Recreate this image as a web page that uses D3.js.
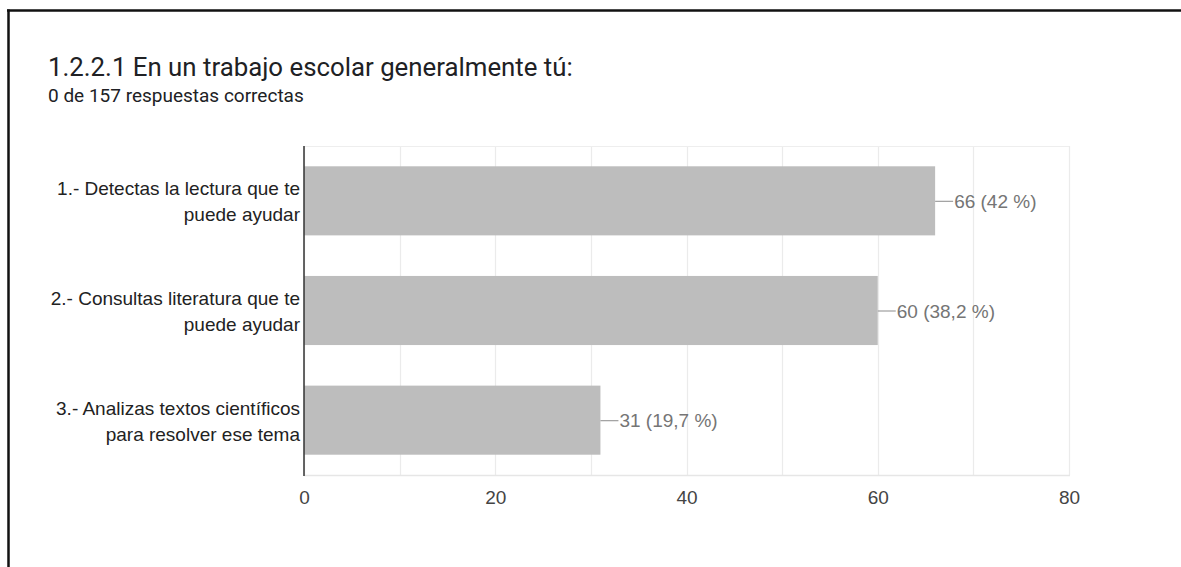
<!DOCTYPE html>
<html>
<head>
<meta charset="utf-8">
<script src="https://cdn.jsdelivr.net/npm/d3@7"></script>
<style>
  html, body { margin: 0; padding: 0; background: #fff; }
  svg { display: block; }
</style>
</head>
<body>
<svg id="chart" width="1181" height="567"></svg>
<script>
// Survey answers
const categories = [
  ["1.- Detectas la lectura que te", "puede ayudar"],
  ["2.- Consultas literatura que te", "puede ayudar"],
  ["3.- Analizas textos científicos", "para resolver ese tema"]
];
const counts = [66, 60, 31];
const valueLabels = ["66 (42 %)", "60 (38,2 %)", "31 (19,7 %)"];
const xTicks = [0, 20, 40, 60, 80];
const gridValues = [0, 10, 20, 30, 40, 50, 60, 70, 80];

const titleText = "1.2.2.1 En un trabajo escolar generalmente tú:";
const subtitleText = "0 de 157 respuestas correctas";

const svg = d3.select("#chart");

// card frame (top and left edges)
svg.append("line").attr("x1", 7).attr("x2", 1181).attr("y1", 10.5).attr("y2", 10.5)
  .attr("stroke", "#111").attr("stroke-width", 2.5);
svg.append("line").attr("x1", 8.5).attr("x2", 8.5).attr("y1", 9.5).attr("y2", 567)
  .attr("stroke", "#111").attr("stroke-width", 2.5);

svg.append("text").attr("x", 48).attr("y", 76)
  .attr("font-family", "Roboto, sans-serif").attr("font-size", 25.8)
  .attr("fill", "#202124").text(titleText);
svg.append("text").attr("x", 48).attr("y", 102)
  .attr("font-family", "Roboto, sans-serif").attr("font-size", 19)
  .attr("fill", "#202124").text(subtitleText);

const plotLeft = 304, plotRight = 1069, plotTop = 146, plotBottom = 475;
const x = d3.scaleLinear().domain([0, 80]).range([plotLeft, plotRight]);
const y = d3.scaleBand().domain(d3.range(counts.length)).range([plotTop, plotBottom])
  .paddingInner(0.37).paddingOuter(0.185);

const font = "'Liberation Sans', Arial, sans-serif";
const fs = 19;

// vertical grid lines
svg.append("g").selectAll("line").data(gridValues).join("line")
  .attr("x1", d => Math.round(x(d)) + 0.5).attr("x2", d => Math.round(x(d)) + 0.5)
  .attr("y1", plotTop).attr("y2", plotBottom)
  .attr("stroke", "#ebebeb").attr("stroke-width", 1.2);
// top and bottom frame of plot area
svg.append("line").attr("x1", plotLeft).attr("x2", plotRight).attr("y1", plotTop + 0.5).attr("y2", plotTop + 0.5)
  .attr("stroke", "#eeeeee").attr("stroke-width", 1.2);
svg.append("line").attr("x1", plotLeft).attr("x2", plotRight + 1).attr("y1", plotBottom + 0.5).attr("y2", plotBottom + 0.5)
  .attr("stroke", "#e6e6e6").attr("stroke-width", 1.5);

// bars
svg.append("g").selectAll("rect").data(counts).join("rect")
  .attr("x", x(0)).attr("y", (d, i) => y(i))
  .attr("width", d => x(d) - x(0)).attr("height", y.bandwidth())
  .attr("fill", "#bdbdbd");

// value connectors and labels
const vl = svg.append("g");
vl.selectAll("line").data(counts).join("line")
  .attr("x1", d => x(d)).attr("x2", d => x(d) + 18)
  .attr("y1", (d, i) => y(i) + y.bandwidth() / 2 + 0.5)
  .attr("y2", (d, i) => y(i) + y.bandwidth() / 2 + 0.5)
  .attr("stroke", "#9e9e9e").attr("stroke-width", 1.2);
vl.selectAll("text").data(counts).join("text")
  .attr("x", d => x(d) + 19)
  .attr("y", (d, i) => y(i) + y.bandwidth() / 2 + 7)
  .attr("font-family", font).attr("font-size", fs)
  .attr("fill", "#757575")
  .text((d, i) => valueLabels[i]);

// category labels
const cl = svg.append("g");
categories.forEach((lines, i) => {
  const cy = y(i) + y.bandwidth() / 2;
  const t = cl.append("text").attr("text-anchor", "end")
    .attr("font-family", font).attr("font-size", fs).attr("fill", "#222");
  lines.forEach((ln, j) => {
    t.append("tspan").attr("x", 300).attr("y", cy - 5.5 + j * 26).text(ln);
  });
});

// x axis tick labels
const xAxis = d3.axisBottom(x).tickValues(xTicks).tickSize(0).tickPadding(0);
const ax = svg.append("g").attr("transform", `translate(0,${plotBottom})`).call(xAxis);
ax.select(".domain").remove();
ax.selectAll("text").attr("dy", null).attr("y", 29)
  .attr("font-family", font).attr("font-size", fs).attr("fill", "#444");

// left axis line
svg.append("line").attr("x1", plotLeft).attr("x2", plotLeft).attr("y1", plotTop).attr("y2", plotBottom + 1)
  .attr("stroke", "#333").attr("stroke-width", 1.5);
</script>
</body>
</html>
